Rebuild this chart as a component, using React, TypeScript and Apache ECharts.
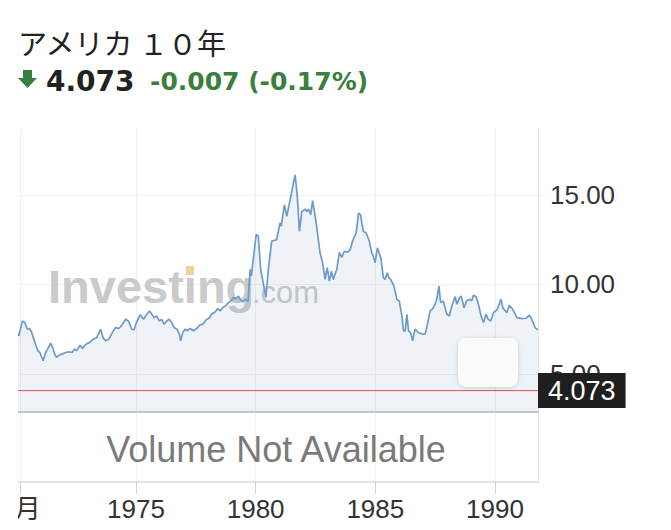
import React, { useEffect, useRef } from 'react';
import * as echarts from 'echarts';

const title = 'アメリカ １０年';
const lastPrice = 4.073;
const change = -0.007;
const changePct = -0.17;

// time position of each reading, in decimal years
const years = [
  1970.04, 1970.10, 1970.25, 1970.35, 1970.46, 1970.55, 1970.63, 1970.80, 1970.90, 1970.98,
  1971.12, 1971.22, 1971.32, 1971.43, 1971.51, 1971.60, 1971.68, 1971.78, 1971.90,
  1972.06, 1972.20, 1972.33, 1972.43, 1972.53, 1972.66, 1972.76, 1972.90,
  1973.05, 1973.21, 1973.36, 1973.52, 1973.62, 1973.73, 1973.86,
  1974.01, 1974.15, 1974.29, 1974.43, 1974.57, 1974.68, 1974.82, 1974.92, 1974.99,
  1975.17, 1975.31, 1975.45, 1975.56, 1975.66, 1975.76, 1975.86, 1975.97,
  1976.07, 1976.17, 1976.28, 1976.39, 1976.49, 1976.59, 1976.71, 1976.81, 1976.87, 1976.95,
  1977.05, 1977.15, 1977.26, 1977.40, 1977.54, 1977.65, 1977.79, 1977.93,
  1978.07, 1978.16, 1978.30, 1978.42, 1978.52, 1978.62, 1978.76, 1978.86, 1978.96,
  1979.07, 1979.18, 1979.28, 1979.35, 1979.46, 1979.56, 1979.68, 1979.77, 1979.82,
  1980.02, 1980.11, 1980.21, 1980.35, 1980.43, 1980.53, 1980.67, 1980.88,
  1981.02, 1981.07, 1981.20, 1981.30, 1981.44, 1981.55, 1981.65, 1981.74, 1981.83, 1981.93,
  1982.07, 1982.14, 1982.21, 1982.30, 1982.38, 1982.52, 1982.69, 1982.80, 1982.90, 1982.99,
  1983.08, 1983.17, 1983.24, 1983.39, 1983.50, 1983.60, 1983.70, 1983.84, 1983.95,
  1984.05, 1984.20, 1984.30, 1984.38, 1984.50, 1984.62, 1984.75, 1984.85, 1984.92, 1984.99,
  1985.09, 1985.23, 1985.34, 1985.41, 1985.50, 1985.57, 1985.64, 1985.78, 1985.90, 1986.00,
  1986.11, 1986.18, 1986.25, 1986.32, 1986.39, 1986.48, 1986.56, 1986.66, 1986.80,
  1987.01, 1987.08, 1987.18, 1987.29, 1987.40, 1987.50, 1987.57, 1987.66, 1987.73, 1987.84, 1987.99,
  1988.09, 1988.20, 1988.34, 1988.41, 1988.52, 1988.59, 1988.71, 1988.82, 1988.96,
  1989.03, 1989.10, 1989.21, 1989.31, 1989.42, 1989.52, 1989.63, 1989.72, 1989.82, 1989.94,
  1990.10, 1990.25, 1990.33, 1990.43, 1990.50, 1990.60, 1990.74, 1990.92,
  1991.13, 1991.30, 1991.44, 1991.54, 1991.68, 1991.80,
];

const values = [
  7.31, 7.13, 7.96, 7.87, 7.5, 7.54, 7.35, 6.66, 6.29, 6.2,
  5.74, 6.2, 6.43, 6.72, 6.49, 6.11, 5.92, 6.05, 6.11,
  6.2, 6.24, 6.2, 6.39, 6.3, 6.61, 6.43, 6.66,
  6.75, 6.94, 7.03, 7.5, 7.03, 6.85, 6.94,
  7.31, 7.59, 7.54, 7.78, 8.05, 7.96, 7.5, 7.47, 7.78,
  8.3, 8.05, 8.33, 8.52, 8.33, 8.14, 8.24, 7.96,
  8.05, 7.78, 7.96, 8.05, 7.87, 7.59, 7.5, 7.22, 6.85, 7.31,
  7.5, 7.41, 7.54, 7.41, 7.54, 7.72, 7.78, 8.02,
  8.14, 8.33, 8.46, 8.65, 8.52, 8.7, 8.83, 8.98, 9.08,
  9.26, 9.2, 9.35, 9.17, 9.02, 9.17, 9.05, 10.83, 10.46,
  12.78, 12.7, 10.83, 9.83, 9.28, 10.83, 12.41, 12.5,
  13.43, 13.25, 14.44, 13.8, 14.72, 15.46, 16.11, 14.9, 12.96, 14.07,
  14.2, 14.07, 14.2, 13.89, 14.68, 13.52, 11.76, 11.2, 10.28, 10.93,
  10.18, 10.74, 10.28, 10.83, 11.79, 11.5, 11.85, 11.79, 11.94,
  12.41, 12.87, 13.98, 13.89, 12.96, 12.87, 12.41, 11.76, 11.57, 11.2,
  12.04, 11.48, 10.37, 10.28, 10.65, 10.37, 10.28, 9.9, 9.17, 9.08,
  8.24, 7.4, 7.4, 8.33, 7.4, 7.31, 6.85, 7.5, 7.3,
  7.22, 7.22, 7.78, 8.52, 8.65, 8.89, 9.17, 9.91, 8.98, 9.08, 8.33,
  8.24, 8.79, 9.32, 8.89, 9.26, 9.35, 8.7, 9.08, 9.17,
  9.08, 9.39, 9.32, 8.89, 8.24, 7.87, 8.33, 8.05, 7.96, 8.42,
  8.61, 9.17, 8.7, 8.52, 8.42, 8.83, 8.61, 8.15,
  8.09, 8.11, 8.29, 8.05, 7.59, 7.46,
];

const xMin = 1970.067;
const xMax = 1991.8;
const xTickValues = [1970.17, 1975, 1980, 1985, 1990];
const xTickLabels = ['3月', '1975', '1980', '1985', '1990'];
const yMin = 2.88;
const yMax = 18.67;
const yTicks = [5, 10, 15];

const SANS = "'Liberation Sans', Arial, 'Noto Sans CJK JP', sans-serif";
const GREEN = '#3a7f3e';
const RED = '#d9534f';

export default function App() {
  const ref = useRef<HTMLDivElement>(null);

  useEffect(() => {
    if (!ref.current) return;
    const chart = echarts.init(ref.current, null, { renderer: 'svg' });
    const xLabelFmt = (v: number) => {
      const i = xTickValues.findIndex((t) => Math.abs(t - v) < 1e-6);
      return i >= 0 ? xTickLabels[i] : '';
    };

    const option: any = {
      animation: false,
      grid: [
        { left: 0, right: 133, top: 129, height: 283, outerBoundsMode: 'none', containLabel: false },
        { left: 0, right: 133, top: 412, height: 70, outerBoundsMode: 'none', containLabel: false },
      ],
      xAxis: [
        {
          type: 'value',
          gridIndex: 0,
          min: xMin,
          max: xMax,
          axisLine: { show: true, onZero: false, lineStyle: { color: '#c9c9c9', width: 2 } },
          axisTick: { show: false, customValues: xTickValues },
          axisLabel: { show: false, customValues: xTickValues },
          splitLine: { show: true, lineStyle: { color: '#f0f0f0', width: 1 } },
        },
        {
          type: 'value',
          gridIndex: 1,
          min: xMin,
          max: xMax,
          axisLine: { show: true, onZero: false, lineStyle: { color: '#e4e4e4', width: 2 } },
          axisTick: { show: true, length: 12, lineStyle: { color: '#d0d0d0' }, customValues: xTickValues },
          axisLabel: {
            show: true,
            customValues: xTickValues,
            formatter: xLabelFmt,
            fontSize: 26,
            color: '#333',
            margin: 14,
            fontFamily: SANS,
            hideOverlap: false,
          },
          splitLine: { show: true, lineStyle: { color: '#f3f3f3', width: 1 } },
        },
      ],
      yAxis: [
        {
          type: 'value',
          gridIndex: 0,
          position: 'right',
          min: yMin,
          max: yMax,
          axisLine: { show: true, lineStyle: { color: '#e2e2e2' } },
          axisTick: { show: true, length: 4, lineStyle: { color: '#e2e2e2' }, customValues: yTicks },
          axisLabel: {
            customValues: yTicks,
            formatter: (v: number) => v.toFixed(2),
            fontSize: 26,
            color: '#333',
            margin: 12,
            fontFamily: SANS,
          },
          splitLine: { show: true, lineStyle: { color: '#f0f0f0' } },
        },
        {
          type: 'value',
          gridIndex: 1,
          position: 'right',
          min: 0,
          max: 1,
          axisLine: { show: true, lineStyle: { color: '#e2e2e2' } },
          axisTick: { show: false },
          axisLabel: { show: false },
          splitLine: { show: false },
        },
      ],
      series: [
        {
          type: 'line',
          xAxisIndex: 0,
          yAxisIndex: 0,
          data: years.map((y, i) => [y, values[i]]),
          showSymbol: false,
          symbol: 'none',
          lineStyle: { color: '#6c9bcb', width: 1.7 },
          areaStyle: { color: 'rgba(125,160,200,0.18)', origin: 'start' },
          z: 3,
        },
        {
          type: 'line',
          xAxisIndex: 0,
          yAxisIndex: 0,
          data: [[xMin, lastPrice], [xMax, lastPrice]],
          showSymbol: false,
          symbol: 'none',
          silent: true,
          color: RED,
          lineStyle: { color: RED, width: 1, type: 'solid' },
          z: 4,
          endLabel: {
            show: true,
            distance: 0,
            formatter: () => lastPrice.toFixed(3),
            color: '#fff',
            backgroundColor: '#1f1f1f',
            fontSize: 27,
            lineHeight: 27,
            padding: [4, 10, 4, 10],
            fontFamily: SANS,
          },
        },
        {
          type: 'line',
          xAxisIndex: 1,
          yAxisIndex: 1,
          data: [],
        },
      ],
      graphic: [
        {
          type: 'text',
          x: 0,
          y: 42,
          z: 10,
          style: {
            text: title,
            fill: '#222',
            fontSize: 29,
            fontFamily: "'Noto Sans CJK JP', sans-serif",
            verticalAlign: 'middle',
            align: 'left',
          },
        },
        { type: 'rect', z: 10, shape: { x: 5, y: 70, width: 9, height: 9 }, style: { fill: GREEN } },
        {
          type: 'polygon',
          z: 10,
          shape: { points: [[0, 78], [19, 78], [9.5, 88]] },
          style: { fill: GREEN },
        },
        {
          type: 'text',
          x: 28,
          y: 81,
          z: 10,
          style: {
            text: lastPrice.toFixed(3),
            fill: '#222',
            fontSize: 28,
            fontWeight: 'bold',
            fontFamily: "'DejaVu Sans', sans-serif",
            verticalAlign: 'middle',
          },
        },
        {
          type: 'text',
          x: 132,
          y: 81.5,
          z: 10,
          style: {
            text: `${change.toFixed(3)} (${changePct.toFixed(2)}%)`,
            fill: GREEN,
            fontSize: 25,
            fontWeight: 'bold',
            fontFamily: "'DejaVu Sans', sans-serif",
            verticalAlign: 'middle',
          },
        },
        {
          type: 'text',
          x: 30,
          y: 286,
          z: 1,
          style: {
            text: 'Investing',
            fill: '#cacaca',
            fontSize: 47,
            fontWeight: 'bold',
            fontFamily: SANS,
            verticalAlign: 'middle',
          },
        },
        {
          type: 'text',
          x: 234,
          y: 292,
          z: 1,
          style: {
            text: '.com',
            fill: '#cacaca',
            fontSize: 31,
            fontFamily: SANS,
            verticalAlign: 'middle',
          },
        },
        { type: 'rect', z: 1, shape: { x: 168, y: 266, width: 8, height: 9 }, style: { fill: '#f2cf9c' } },
        {
          type: 'text',
          x: 258,
          y: 449,
          z: 10,
          style: {
            text: 'Volume Not Available',
            fill: '#7a7a7a',
            fontSize: 36,
            fontFamily: SANS,
            align: 'center',
            verticalAlign: 'middle',
          },
        },
        {
          type: 'rect',
          z: 10,
          shape: { x: 440, y: 338, width: 60, height: 49, r: 8 },
          style: {
            fill: '#fafafa',
            shadowBlur: 4,
            shadowColor: 'rgba(0,0,0,0.18)',
            shadowOffsetY: 1,
          },
        },
      ],
    };

    chart.setOption(option);
    return () => chart.dispose();
  }, []);

  return (
    <div
      ref={ref}
      style={{ position: 'absolute', left: 18, top: 0, width: 653, height: 530 }}
    />
  );
}
